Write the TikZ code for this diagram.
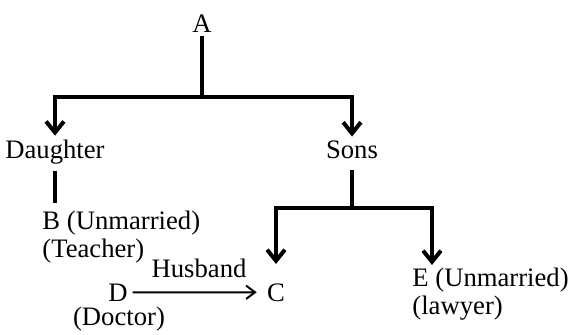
\documentclass[tikz,border=0pt]{standalone}
\usepackage{fontspec}
\setmainfont{Liberation Serif}
\usetikzlibrary{arrows.meta,positioning}

\begin{document}
\begin{tikzpicture}[
    x=0.45pt, y=0.45pt,
    person/.style={font=\fontsize{12}{12.3}\selectfont, inner sep=1.5pt},
    info/.style={person, align=left, anchor=north west, inner sep=0pt},
    stem/.style={line width=1.8pt},
    branch/.style={stem, -{Straight Barb[length=5pt,width=8pt]}},
    relation/.style={line width=0.9pt, -{Straight Barb[length=4pt,width=6pt]}}
]
    \useasboundingbox (0,0) rectangle (569,334);

    % Parent and first split
    \node[person, anchor=base] (a) at (202,302) {A};
    \coordinate (fork1) at (202,237);
    \node[person, anchor=base] (daughter) at (55,176) {Daughter};
    \node[person, anchor=base] (sons) at (352,176) {Sons};

    \draw[stem, line width=1.4pt] (a) -- (fork1);
    \draw[branch] (fork1) -| (daughter);
    \draw[branch] (fork1) -| (sons);

    % Daughter side
    \node[info] (b) at (42,123) {B (Unmarried)\\(Teacher)};
    \draw[stem, shorten <=1.5pt, shorten >=3.5pt] (daughter) -- (daughter |- b.north);

    % Sons side
    \coordinate (fork2) at (352,126);
    \node[person, anchor=base, inner xsep=4.5pt, inner ysep=8.5pt] (c) at (276,33) {C};
    \node[info] (e) at (412,66) {E (Unmarried)\\(lawyer)};

    \draw[stem, shorten <=3.5pt] (sons) -- (fork2);
    \draw[branch] (fork2) -| (c);
    \draw[branch] (fork2) -| ([shift={(20,3)}]e.north west);

    % Husband of C
    \node[person, anchor=base, inner sep=2pt] (d) at (118,33) {D};
    \node[person, anchor=base] (doctor) at (119,9) {(Doctor)};
    \draw[relation] (d) -- node[person, above=5pt, xshift=2pt, inner sep=1pt] {Husband} (c);
\end{tikzpicture}
\end{document}
